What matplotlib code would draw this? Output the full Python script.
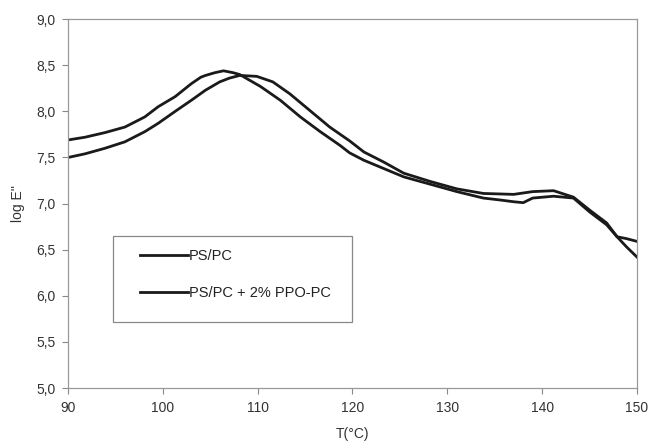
import matplotlib
matplotlib.use("Agg")
import matplotlib.pyplot as plt
from matplotlib.patches import Rectangle
from matplotlib.ticker import FuncFormatter, MultipleLocator

plt.rcParams['font.family'] = ['Liberation Sans', 'DejaVu Sans']

# PS/PC
T_a = [90, 91.8, 93.9, 96.0, 98.1, 99.5, 101.3, 103.0, 104.0, 104.5, 105.5, 106.4,
       107.4, 108.1, 110.3, 112.4, 114.5, 116.6, 118.7, 119.7, 121.2, 123.3, 125.4,
       128.2, 131.0, 133.8, 135.5, 137.0, 138.0, 139.0, 141.2, 143.3, 145.0, 146.8,
       147.9, 148.9, 150.0]
logE_a = [7.69, 7.72, 7.77, 7.83, 7.94, 8.05, 8.16, 8.30, 8.37, 8.39, 8.42, 8.44,
          8.42, 8.40, 8.27, 8.12, 7.94, 7.78, 7.63, 7.55, 7.47, 7.38, 7.29,
          7.21, 7.13, 7.06, 7.04, 7.02, 7.01, 7.06, 7.08, 7.06, 6.91, 6.77,
          6.64, 6.53, 6.42]

# PS/PC + 2% PPO-PC
T_b = [90, 91.8, 93.9, 96.0, 98.1, 99.5, 101.3, 103.0, 104.5, 106.0, 107.0, 108.1,
       109.9, 111.6, 113.4, 115.5, 117.6, 119.7, 121.2, 123.3, 125.4, 128.2, 131.0,
       133.8, 137.0, 139.0, 141.2, 143.3, 145.0, 146.8, 147.9, 148.9, 150.0]
logE_b = [7.50, 7.54, 7.60, 7.67, 7.78, 7.87, 8.00, 8.12, 8.23, 8.32, 8.36, 8.39,
          8.38, 8.32, 8.19, 8.01, 7.83, 7.68, 7.56, 7.45, 7.33, 7.24, 7.16,
          7.11, 7.10, 7.13, 7.14, 7.07, 6.93, 6.79, 6.64, 6.62, 6.59]

labels = ["PS/PC", "PS/PC + 2% PPO-PC"]
x_label = "T(°C)"
y_label = "log E''"

fig = plt.figure(figsize=(6.5, 4.46), dpi=100)
ax = fig.add_axes([0.1046, 0.130, 0.8754, 0.827])

ax.plot(T_a, logE_a, color='#1a1a1a', lw=2.0, label=labels[0])
ax.plot(T_b, logE_b, color='#1a1a1a', lw=2.0, label=labels[1])

ax.set_xlim(90, 150)
ax.set_ylim(5.0, 9.0)
ax.xaxis.set_major_locator(MultipleLocator(10))
ax.yaxis.set_major_locator(MultipleLocator(0.5))
ax.yaxis.set_major_formatter(FuncFormatter(lambda v, p: f"{v:.1f}".replace('.', ',')))
ax.xaxis.set_major_formatter(FuncFormatter(lambda v, p: f"{v:.0f}"))

for s in ax.spines.values():
    s.set_color('#999999')
    s.set_linewidth(0.9)

ax.tick_params(axis='both', direction='out', length=4, width=0.8, color='#888888',
               labelsize=10, labelcolor='#333333', pad=5)

ax.set_xlabel(x_label, fontsize=10, color='#333333', labelpad=9)
ax.set_ylabel(y_label, fontsize=10, color='#333333', labelpad=8)

# legend frame (drawn separately so its padding can match the reference)
ax.add_patch(Rectangle((0.0791, 0.179), 0.4199, 0.233, transform=ax.transAxes,
                       facecolor='white', edgecolor='#888888', lw=0.9, zorder=4))
leg = ax.legend(loc='upper left', bbox_to_anchor=(0.1265, 0.376), borderaxespad=0,
                frameon=False, fontsize=10.5, handlelength=3.3, handletextpad=0.07,
                labelspacing=1.55, borderpad=0)
leg.set_zorder(5)
for t in leg.get_texts():
    t.set_color('#222222')

fig.savefig("out.png", dpi=100)
